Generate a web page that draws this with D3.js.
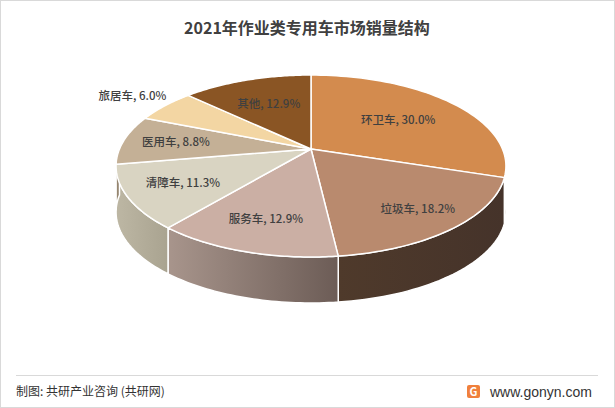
<!DOCTYPE html><html><head><meta charset="utf-8">
<script src="https://cdn.jsdelivr.net/npm/d3@7"></script>
<style>body{margin:0;background:#fff}svg{display:block;font-family:"Noto Sans CJK SC","Noto Sans",sans-serif}</style>
</head><body><svg id="c" width="615" height="408"></svg>
<script>
const categories=["环卫车","垃圾车","服务车","清障车","医用车","旅居车","其他"];
const values=[30.0,18.2,12.9,11.3,8.8,6.0,12.9];
const topColors=["#D38B4E","#B98A6E","#CBAFA4","#D9D4C2","#C4B096","#F3D6A3","#8A5524"];
const sideColors=[["#8a5a32","#6a4526"],["#4f3a2b","#45332a"],["#a8958c","#6c5c56"],["#bdb7a4","#a9a390"],["#9e8e78","#8a7b66"],["#c9b187","#b39c74"],["#6a4019","#5a3514"]];
const svg=d3.select("#c");
const W=615,H=408;
svg.append("rect").attr("x",0.5).attr("y",0.5).attr("width",W-1).attr("height",H-1).attr("fill","#fff").attr("stroke","#d9d9d9");
svg.append("text").attr("x",307).attr("y",34).attr("text-anchor","middle").attr("font-size",16).attr("font-weight","bold").attr("fill","#404040").text("2021年作业类专用车市场销量结构");
const cx=311,cy=149,rx=191.5,a=87.8,k=-0.187,depth=46;
function P(th,r){const x=r*Math.sin(th),y=-r*Math.cos(th),w=1+k*y;return [cx+rx*x/w,cy+a*y/w];}
const pie=d3.pie().sort(null).value(d=>d)(values);
const defs=svg.append("defs");
const g=svg.append("g");
pie.forEach((s,i)=>{
  const a0=Math.max(s.startAngle,Math.PI/2),a1=Math.min(s.endAngle,3*Math.PI/2);
  if(a1<=a0)return;
  const n=40,top=[],bot=[];
  for(let j=0;j<=n;j++){const t=a0+(a1-a0)*j/n;const p=P(t,1);top.push(p);bot.push([p[0],p[1]+depth]);}
  const id="gs"+i;
  const gr=defs.append("linearGradient").attr("id",id).attr("x1","0").attr("x2","1");
  gr.append("stop").attr("offset","0").attr("stop-color",sideColors[i][0]);
  gr.append("stop").attr("offset","1").attr("stop-color",sideColors[i][1]);
  g.append("path").attr("d",d3.line()(top.concat(bot.reverse()))+"Z").attr("fill",`url(#${id})`).attr("stroke","#fff").attr("stroke-width",1.5);
});
pie.forEach((s,i)=>{
  const n=60,pts=[[cx,cy]];
  for(let j=0;j<=n;j++){pts.push(P(s.startAngle+(s.endAngle-s.startAngle)*j/n,1));}
  g.append("path").attr("d",d3.line()(pts)+"Z").attr("fill",topColors[i]).attr("stroke","#fff").attr("stroke-width",1.5).attr("stroke-linejoin","round");
});
const lr=[0.6,0.78,0.72,0.72,0.72,1.25,0.62];
pie.forEach((s,i)=>{
  const p=P((s.startAngle+s.endAngle)/2,lr[i]);
  svg.append("text").attr("x",p[0]).attr("y",p[1]+4).attr("text-anchor","middle").attr("font-size",11.5).attr("font-weight",500).attr("fill","#404040")
   .text(categories[i]+", "+values[i].toFixed(1)+"%");
});
svg.append("line").attr("x1",16).attr("x2",598).attr("y1",375.5).attr("y2",375.5).attr("stroke","#d9d9d9");
svg.append("text").attr("x",16).attr("y",396).attr("font-size",12).attr("fill","#333").text("制图: 共研产业咨询 (共研网)");
svg.append("rect").attr("x",467).attr("y",385).attr("width",13).attr("height",13).attr("rx",2).attr("fill","#f0803c");
svg.append("text").attr("x",473.5).attr("y",396).attr("text-anchor","middle").attr("font-size",11).attr("font-weight","bold").attr("fill","#fff").text("G");
svg.append("text").attr("x",490).attr("y",397).attr("font-size",14).attr("fill","#333").attr("font-family","'Liberation Sans',Arial,sans-serif").text("www.gonyn.com");
</script></body></html>
